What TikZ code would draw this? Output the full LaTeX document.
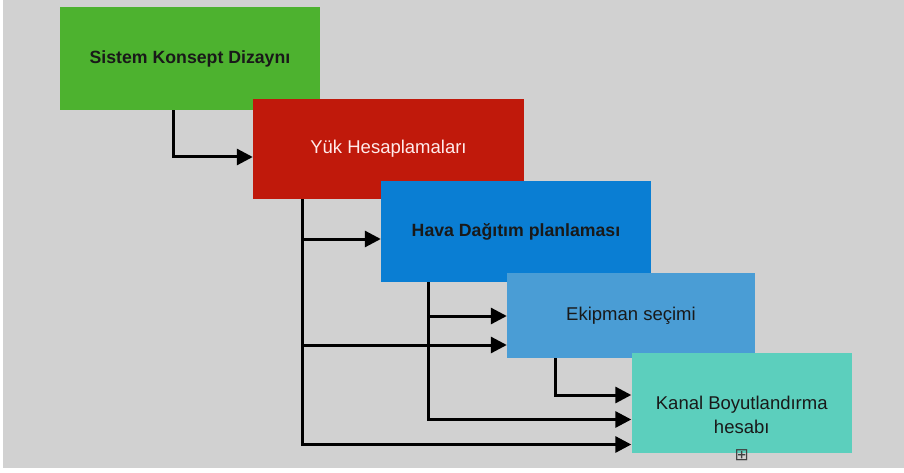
\documentclass[tikz,border=0pt]{standalone}
\usepackage{fontspec}
\setmainfont{Liberation Sans}
\newfontfamily\symfont{DejaVu Sans}
\usetikzlibrary{arrows.meta}

\definecolor{bggray}{HTML}{D1D1D1}
\definecolor{sysgreen}{HTML}{4DB22F}
\definecolor{loadred}{HTML}{C0190B}
\definecolor{airblue}{HTML}{0A7ED3}
\definecolor{equipblue}{HTML}{4A9DD5}
\definecolor{ductteal}{HTML}{5CCFBD}

\begin{document}
\begin{tikzpicture}[
  x=1pt, y=-1pt,
  phase/.style={draw=none, inner sep=0pt, align=center, font=\fontsize{18.5}{24}\selectfont, text=black!90},
  boldphase/.style={phase, font=\fontsize{17.7}{24}\selectfont\bfseries},
  arrow/.style={-{Triangle[length=16pt,width=16pt]}, line width=3pt}
]

% Background
\useasboundingbox (0,0) rectangle (904,473);
\fill[white] (0,0) rectangle (904,473);
\fill[bggray] (3,0) rectangle (904,468);

% Phases
\node[boldphase, fill=sysgreen, minimum width=260pt, minimum height=103pt] (sistem) at (190,58.5) {Sistem Konsept Dizaynı};
\node[phase, fill=loadred, minimum width=271pt, minimum height=100pt, text=white!92!red] (yuk) at (388.5,149) {Yük Hesaplamaları};
\node[boldphase, fill=airblue, minimum width=270pt, minimum height=101pt] (hava) at (516,231.5) {Hava Dağıtım planlaması};
\node[phase, fill=equipblue, minimum width=248pt, minimum height=85pt] (ekipman) at (631,315.5) {Ekipman seçimi};
\node[phase, fill=ductteal, minimum width=220.5pt, minimum height=100pt] (kanal) at (741.75,402.5) {\rule{0pt}{37.5pt}Kanal Boyutlandırma\\hesabı};
\node[font=\symfont\fontsize{17}{17}\selectfont, text=black!75, inner sep=0pt] (expand) at ([yshift=-2pt]kanal.south) {⊞};

% Arrows
\coordinate (sisdown) at ([xshift=114pt]sistem.south west);
\coordinate (yukdown) at ([xshift=50pt]yuk.south west);
\coordinate (havadown) at ([xshift=47.5pt]hava.south west);
\coordinate (ekipdown) at ([xshift=49pt]ekipman.south west);

\draw[arrow] (sisdown) |- ([yshift=-8pt]yuk.west);
\draw[arrow] (yukdown) |- ([yshift=-7.5pt]hava.west);
\draw[arrow] (yukdown) |- ([yshift=-29.5pt]ekipman.west);
\draw[arrow] (yukdown) |- ([yshift=-42pt]kanal.west);
\draw[arrow] (havadown) |- ([yshift=-0.5pt]ekipman.west);
\draw[arrow] (havadown) |- ([yshift=-17pt]kanal.west);
\draw[arrow] (ekipdown) |- ([yshift=7.5pt]kanal.west);

\end{tikzpicture}
\end{document}
